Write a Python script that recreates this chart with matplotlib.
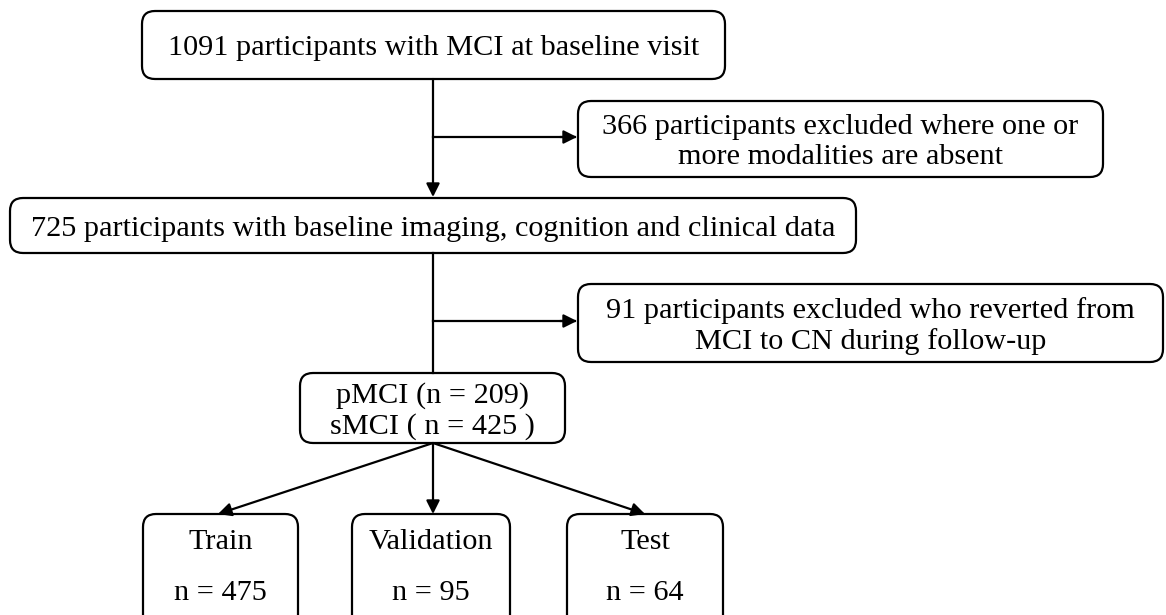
import matplotlib.pyplot as plt
from matplotlib.patches import FancyBboxPatch

# Flowchart texts
main_steps = [
    "1091 participants with MCI at baseline visit",
    "725 participants with baseline imaging, cognition and clinical data",
    "pMCI (n = 209)\nsMCI ( n = 425 )",
]
exclusions = [
    "366 participants excluded where one or\nmore modalities are absent",
    "91 participants excluded who reverted from\nMCI to CN during follow-up",
]
split_names = ["Train", "Validation", "Test"]
split_counts = [475, 95, 64]

plt.rcParams['font.family'] = ['Liberation Serif', 'DejaVu Serif']

fig = plt.figure(figsize=(11.66, 6.15), dpi=100)
ax = fig.add_axes([0, 0, 1, 1])
ax.set_xlim(0, 1166)
ax.set_ylim(615, 0)
ax.axis('off')

LW = 1.6
FS = 21.8


def box(x0, y0, x1, y1, text=None):
    p = FancyBboxPatch((x0, y0), x1 - x0, y1 - y0,
                       boxstyle="round,pad=0,rounding_size=13",
                       fc='white', ec='black', lw=LW)
    ax.add_patch(p)
    if text:
        ax.text((x0 + x1) / 2, (y0 + y1) / 2 + 3, text, ha='center', va='center',
                fontsize=FS, linespacing=1.2)


def arrow(x0, y0, x1, y1):
    ax.annotate("", xy=(x1, y1), xytext=(x0, y0),
                arrowprops=dict(arrowstyle='-|>', color='black', lw=LW,
                                mutation_scale=20, shrinkA=0, shrinkB=0))


cx = 433

# main column
box(142, 11, 725, 79, main_steps[0])
arrow(cx, 79, cx, 197)
ax.plot([cx, 575], [137, 137], color='black', lw=LW)
arrow(560, 137, 577, 137)
box(578, 101, 1103, 177, exclusions[0])

box(10, 198, 856, 253, main_steps[1])
ax.plot([cx, cx], [253, 373], color='black', lw=LW)
ax.plot([cx, 575], [321, 321], color='black', lw=LW)
arrow(560, 321, 577, 321)
box(578, 284, 1163, 362, exclusions[1])

box(300, 373, 565, 443, main_steps[2])

# splits
split_x = [(143, 298), (352, 510), (567, 723)]
tips = [218, cx, 645]
for (x0, x1), tip, name, n in zip(split_x, tips, split_names, split_counts):
    arrow(cx, 443, tip, 514)
    box(x0, 514, x1, 640)
    xm = (x0 + x1) / 2
    ax.text(xm, 542, name, ha='center', va='center', fontsize=FS)
    ax.text(xm, 593, f"n = {n}", ha='center', va='center', fontsize=FS)

fig.savefig("out.png", dpi=100)
